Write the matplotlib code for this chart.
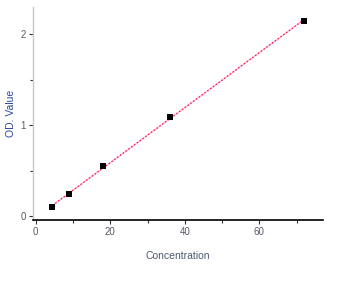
import numpy as np
import matplotlib
matplotlib.use("Agg")
import matplotlib.pyplot as plt
from matplotlib.ticker import MultipleLocator

concentration = [4.5, 9.0, 18.0, 36.0, 72.0]
od_value = [0.10, 0.24, 0.55, 1.09, 2.15]
x_ticks = [0, 20, 40, 60]
y_ticks = [0, 1, 2]

plt.rcParams['font.family'] = ['Liberation Sans', 'DejaVu Sans']

fig = plt.figure(figsize=(3.45, 2.81), dpi=100)
ax = fig.add_axes([0.0957, 0.216, 0.84, 0.759])

# linear fit line
k, b = np.polyfit(concentration, od_value, 1)
xs = np.array([min(concentration), max(concentration)])
ax.plot(xs, k * xs + b, color='#ffb8d8', lw=0.9, zorder=2)
ax.plot(xs, k * xs + b, color='#ff1040', lw=0.9, ls=(0, (1.2, 1.6)), zorder=3)

ax.plot(concentration, od_value, 's', color='black', markersize=4.2,
        markeredgewidth=0, zorder=4)

ax.set_xlim(-0.7, 77)
ax.set_ylim(-0.047, 2.30)
ax.set_xticks(x_ticks)
ax.set_yticks(y_ticks)
ax.xaxis.set_minor_locator(MultipleLocator(10))
ax.yaxis.set_minor_locator(MultipleLocator(0.5))

for s in ['top', 'right']:
    ax.spines[s].set_visible(False)
ax.spines['left'].set_color('#c8c8c8')
ax.spines['left'].set_linewidth(1.0)
ax.spines['bottom'].set_color('black')
ax.spines['bottom'].set_linewidth(1.2)

ax.tick_params(axis='both', which='major', length=3, width=0.8, labelsize=7,
               labelcolor='#5a5a6a', color='#333333', pad=2)
ax.tick_params(axis='both', which='minor', length=2, width=0.8, color='#333333')

ax.set_xlabel('Concentration', fontsize=7.5, color='#505870', labelpad=10)
ax.yaxis.set_label_coords(-0.060, 0.5)
ax.set_ylabel('OD. Value', fontsize=7.5, color='#2848a0')

fig.savefig('out.png', dpi=100)
